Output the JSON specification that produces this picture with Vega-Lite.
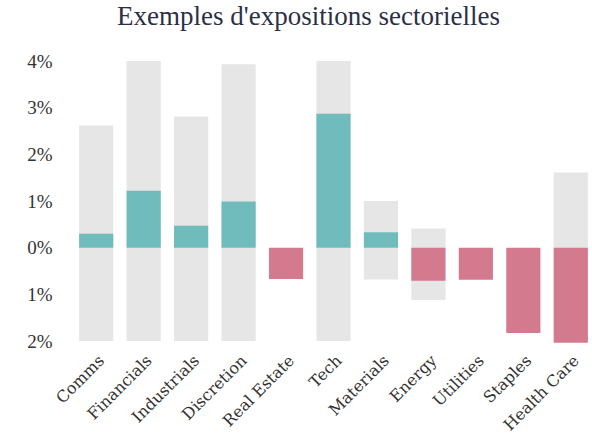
{
  "$schema": "https://vega.github.io/schema/vega-lite/v6.json",
  "autosize": "none",
  "width": 523,
  "height": 280,
  "padding": {"left": 72, "top": 61, "right": 0, "bottom": 99},
  "background": "white",
  "title": {
    "text": "Exemples d'expositions sectorielles",
    "font": "Liberation Serif",
    "fontSize": 27,
    "fontWeight": "normal",
    "color": "#2b3046",
    "anchor": "middle",
    "dx": -25,
    "offset": 21
  },
  "data": {
    "values": [
      {"sector": "Comms", "lo": -2.0, "hi": 2.62, "value": 0.3},
      {"sector": "Financials", "lo": -2.0, "hi": 4.0, "value": 1.22},
      {"sector": "Industrials", "lo": -2.0, "hi": 2.81, "value": 0.47},
      {"sector": "Discretion", "lo": -2.0, "hi": 3.93, "value": 0.99},
      {"sector": "Real Estate", "value": -0.67},
      {"sector": "Tech", "lo": -2.0, "hi": 4.0, "value": 2.87},
      {"sector": "Materials", "lo": -0.68, "hi": 1.0, "value": 0.33},
      {"sector": "Energy", "lo": -1.12, "hi": 0.41, "value": -0.71},
      {"sector": "Utilities", "value": -0.69},
      {"sector": "Staples", "value": -1.83},
      {"sector": "Health Care", "lo": -2.0, "hi": 1.61, "value": -2.04}
    ]
  },
  "layer": [
    {
      "transform": [{"filter": "datum.hi != null"}],
      "mark": {"type": "bar", "color": "#e6e6e6"},
      "encoding": {
        "x": {
          "field": "sector",
          "type": "nominal",
          "sort": null,
          "scale": {
            "domain": ["Comms", "Financials", "Industrials", "Discretion", "Real Estate", "Tech", "Materials", "Energy", "Utilities", "Staples", "Health Care"],
            "paddingInner": 0.28,
            "paddingOuter": 0.15
          },
          "axis": {
            "title": null,
            "labelAngle": -45,
            "labelFont": "DejaVu Serif",
            "labelFontSize": 16,
            "labelColor": "#333333",
            "domain": false,
            "ticks": false,
            "labelPadding": 11
          }
        },
        "y": {
          "field": "lo",
          "type": "quantitative",
          "scale": {"domain": [-2, 4], "nice": false, "zero": false},
          "axis": {
            "title": null,
            "values": [-2, -1, 0, 1, 2, 3, 4],
            "labelExpr": "abs(datum.value) + '%'",
            "labelFont": "Liberation Serif",
            "labelFontSize": 19,
            "labelColor": "#333333",
            "grid": false,
            "domain": false,
            "ticks": false,
            "labelPadding": 20
          }
        },
        "y2": {"field": "hi"}
      }
    },
    {
      "mark": {"type": "bar"},
      "encoding": {
        "x": {"field": "sector", "type": "nominal", "sort": null},
        "y": {"field": "value", "type": "quantitative"},
        "y2": {"datum": 0},
        "color": {
          "condition": {"test": "datum.value > 0", "value": "#70bcbc"},
          "value": "#d47a8f"
        }
      }
    }
  ],
  "config": {"view": {"stroke": null}}
}
